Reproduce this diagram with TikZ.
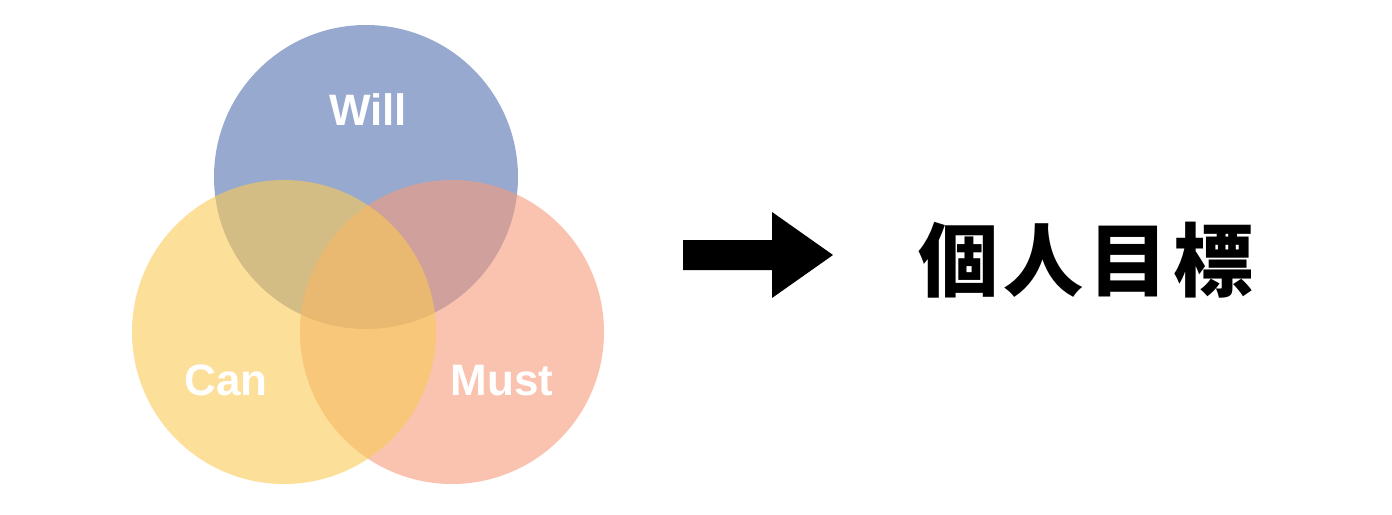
\documentclass[tikz,border=0pt]{standalone}
\usepackage{fontspec}
\setsansfont{Liberation Sans}
\newfontfamily\jafont[LetterSpace=6]{Noto Sans CJK JP}
\usepackage{tikz}
\usetikzlibrary{calc,positioning}
\definecolor{willblue}{RGB}{83,112,175}
\definecolor{canyellow}{RGB}{250,202,85}
\definecolor{mustred}{RGB}{245,155,122}
\tikzset{
  venn/.style={fill opacity=0.6},
  setname/.style={text=white, anchor=base, font=\sffamily\bfseries\fontsize{44}{44}\selectfont},
}

\begin{document}
\begin{tikzpicture}[x=1pt,y=-1pt]
        \def\r{152pt}
        \useasboundingbox (0,0) rectangle (1392,514);
        % Circle centres
        \coordinate (willc) at (366,177);
        \coordinate (canc) at (284,332);
        \coordinate (mustc) at (452,332);
        % Draw the circles
        \fill[venn, willblue] (willc) circle (\r);
        \fill[venn, mustred] (mustc) circle (\r);
        \fill[venn, canyellow] (canc) circle (\r);
        % Names
        \node[setname] (will) at (368,125) {Will};
        \node[setname] (can) at (226,395) {Can};
        \node[setname] (must) at (502,395) {Must};
        % Arrow
        \fill[black] (683,240) -- (772,240) -- (772,212) -- (833,255)
              -- (772,298) -- (772,270) -- (683,270) -- cycle;
        % Goal
        \node[anchor=base, font=\jafont\bfseries\fontsize{80}{80}\selectfont] (goal) at (1086,290) {個人目標};
      \end{tikzpicture}
\end{document}
